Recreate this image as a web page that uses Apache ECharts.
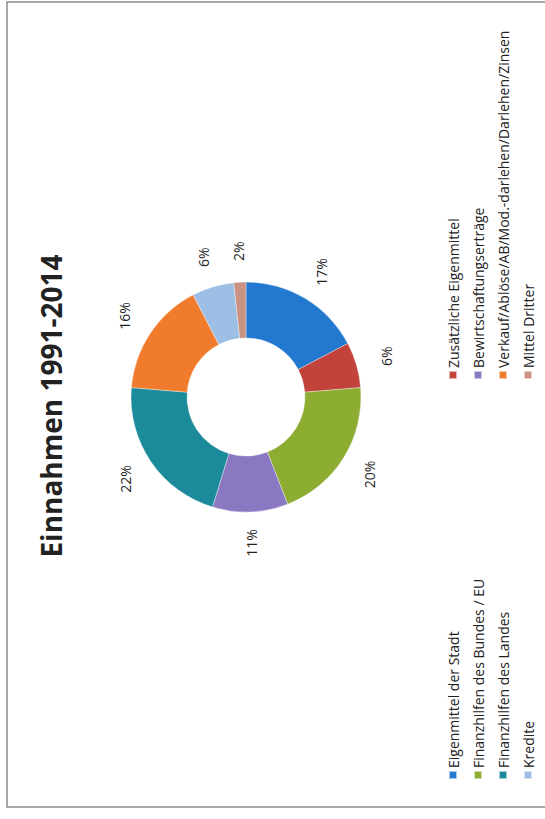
<!DOCTYPE html>
<html>
<head>
<meta charset="utf-8">
<script src="https://cdn.jsdelivr.net/npm/echarts@6/dist/echarts.min.js"></script>
<style>
  html, body { margin: 0; padding: 0; background: #ffffff; overflow: hidden; }
  #chart {
    position: absolute; left: 0; top: 0;
    width: 819px; height: 545px;
    transform-origin: 0 0;
    transform: translate(0px, 819px) rotate(-90deg);
  }
</style>
</head>
<body>
<div id="chart"></div>
<script>
// ---- data ----
const titleText = 'Einnahmen 1991-2014';
const categories = [
  'Eigenmittel der Stadt',
  'Zusätzliche Eigenmittel',
  'Finanzhilfen des Bundes / EU',
  'Bewirtschaftungserträge',
  'Finanzhilfen des Landes',
  'Verkauf/Ablöse/AB/Mod.-darlehen/Darlehen/Zinsen',
  'Kredite',
  'Mittel Dritter'
];
const shares = [17.3, 6.4, 20.4, 10.6, 21.6, 16.1, 5.9, 1.7];
const colors = ['#2379cf', '#c2423c', '#8cac32', '#8a78c2', '#1b8a9a', '#f17b2c', '#9dbfe5', '#c99283'];
const legendColumn1 = [0, 2, 4, 6];
const legendColumn2 = [1, 3, 5, 7];

// ---- build ----
const pieData = categories.map((name, i) => ({ name: name, value: shares[i], itemStyle: { color: colors[i] } }));
const ghostData = categories.map((name, i) => ({ name: name, value: shares[i] }));
const legendItems = idx => idx.map(i => ({ name: categories[i], itemStyle: { color: colors[i] } }));
const FONT = '"Open Sans", "Noto Sans", sans-serif';

const chart = echarts.init(document.getElementById('chart'), null, { renderer: 'svg', width: 819, height: 545 });
chart.setOption({
  backgroundColor: '#ffffff',
  animation: false,
  graphic: [{
    type: 'rect',
    shape: { x: 12, y: 7, width: 805, height: 580 },
    style: { fill: 'none', stroke: '#8c8c8c', lineWidth: 1.5 },
    silent: true
  }, {
    type: 'text',
    x: 413, y: 51,
    style: {
      text: titleText, fill: '#222222',
      font: 'bold 28px ' + FONT,
      align: 'center', verticalAlign: 'middle'
    },
    silent: true
  }],
  legend: [{
    orient: 'vertical',
    left: 34, top: 441,
    itemWidth: 8, itemHeight: 8, itemGap: 11,
    icon: 'rect',
    selectedMode: false,
    data: legendItems(legendColumn1),
    textStyle: { fontFamily: FONT, fontSize: 14, color: '#222222', padding: [0, 0, 0, -2] }
  }, {
    orient: 'vertical',
    left: 434, top: 441,
    itemWidth: 8, itemHeight: 8, itemGap: 11,
    icon: 'rect',
    selectedMode: false,
    data: legendItems(legendColumn2),
    textStyle: { fontFamily: FONT, fontSize: 14, color: '#222222', padding: [0, 0, 0, -2] }
  }],
  series: [{
    type: 'pie',
    center: [422, 246],
    radius: [59, 115],
    startAngle: 0,
    clockwise: true,
    data: pieData,
    label: { show: false },
    labelLine: { show: false },
    itemStyle: { borderColor: 'rgba(255,255,255,0.6)', borderWidth: 0.6 },
    emphasis: { disabled: true },
    silent: true
  }, {
    type: 'pie',
    center: [422, 246],
    radius: [130, 156],
    startAngle: 0,
    clockwise: true,
    data: ghostData,
    itemStyle: { color: 'rgba(0,0,0,0)' },
    label: {
      show: true, position: 'inside',
      formatter: p => Math.round(p.percent) + '%',
      fontFamily: FONT, fontSize: 14, color: '#222222'
    },
    labelLine: { show: false },
    emphasis: { disabled: true },
    silent: true
  }]
});
</script>
</body>
</html>
